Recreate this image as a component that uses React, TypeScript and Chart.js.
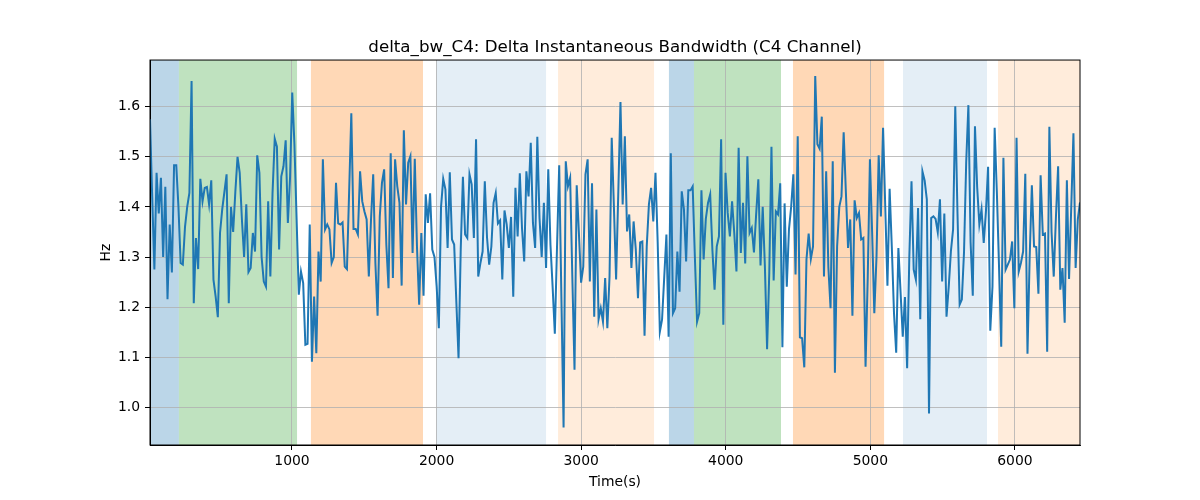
import { useEffect, useRef } from 'react';
import { Chart, registerables } from 'chart.js';

Chart.register(...registerables);

const seg1 = [1.575, 1.42, 1.275, 1.468, 1.387, 1.458, 1.30, 1.44, 1.216, 1.365, 1.269, 1.483, 1.483, 1.40, 1.288, 1.285, 1.36, 1.40, 1.428, 1.651, 1.208, 1.338, 1.276, 1.456, 1.411, 1.438, 1.44, 1.405, 1.453, 1.255, 1.221, 1.18, 1.348, 1.395, 1.43, 1.465, 1.208, 1.40];
const seg2 = [1.35, 1.43, 1.50, 1.468, 1.375, 1.30, 1.405, 1.27, 1.278, 1.348, 1.311, 1.503, 1.468, 1.30, 1.251, 1.241, 1.411, 1.261, 1.428, 1.536, 1.52, 1.315, 1.461, 1.481, 1.533, 1.368, 1.458, 1.628, 1.525, 1.375, 1.225, 1.271, 1.248, 1.125, 1.127, 1.365, 1.091, 1.221];
const seg3 = [1.108, 1.311, 1.251, 1.495, 1.355, 1.365, 1.355, 1.288, 1.30, 1.448, 1.367, 1.365, 1.369, 1.281, 1.276, 1.43, 1.587, 1.356, 1.356, 1.345, 1.471, 1.411, 1.391, 1.375, 1.261, 1.375, 1.465, 1.288, 1.183, 1.381, 1.448, 1.475, 1.325, 1.238, 1.507, 1.258, 1.495, 1.441, 1.408];
const seg4 = [1.243, 1.553, 1.405, 1.488, 1.501, 1.308, 1.496, 1.321, 1.205, 1.348, 1.223, 1.425, 1.368, 1.427, 1.315, 1.30, 1.241, 1.158, 1.40, 1.456, 1.435, 1.318, 1.469, 1.335, 1.325, 1.21, 1.098, 1.315, 1.46, 1.345, 1.338, 1.465, 1.445, 1.338, 1.535, 1.261, 1.288, 1.311, 1.451];
const seg5 = [1.34, 1.285, 1.321, 1.408, 1.428, 1.367, 1.373, 1.255, 1.393, 1.365, 1.318, 1.38, 1.221, 1.438, 1.341, 1.467, 1.358, 1.291, 1.471, 1.421, 1.528, 1.368, 1.318, 1.54, 1.378, 1.30, 1.408, 1.278, 1.475, 1.325, 1.24, 1.147, 1.32, 1.483, 1.22, 0.96, 1.491, 1.441, 1.458];
const seg6 = [1.26, 1.075, 1.443, 1.348, 1.249, 1.281, 1.465, 1.495, 1.251, 1.447, 1.181, 1.395, 1.176, 1.198, 1.171, 1.258, 1.158, 1.261, 1.538, 1.40, 1.255, 1.428, 1.609, 1.405, 1.541, 1.351, 1.385, 1.278, 1.371, 1.315, 1.218, 1.329, 1.331, 1.143, 1.321, 1.405, 1.438, 1.371, 1.468];
const seg7 = [1.33, 1.151, 1.175, 1.26, 1.345, 1.141, 1.507, 1.188, 1.198, 1.311, 1.231, 1.431, 1.395, 1.291, 1.433, 1.433, 1.441, 1.30, 1.171, 1.188, 1.433, 1.295, 1.376, 1.408, 1.425, 1.315, 1.235, 1.321, 1.341, 1.535, 1.165, 1.468, 1.388, 1.341, 1.411, 1.348, 1.271, 1.518, 1.308];
const seg8 = [1.408, 1.287, 1.501, 1.348, 1.358, 1.309, 1.385, 1.455, 1.283, 1.40, 1.281, 1.116, 1.268, 1.52, 1.253, 1.391, 1.385, 1.447, 1.12, 1.407, 1.241, 1.355, 1.40, 1.465, 1.265, 1.541, 1.14, 1.138, 1.08, 1.295, 1.347, 1.296, 1.321, 1.661, 1.525, 1.516, 1.58, 1.261, 1.471];
const seg9 = [1.28, 1.198, 1.491, 1.069, 1.321, 1.40, 1.421, 1.549, 1.43, 1.318, 1.375, 1.183, 1.413, 1.378, 1.388, 1.335, 1.338, 1.081, 1.26, 1.495, 1.35, 1.188, 1.30, 1.503, 1.381, 1.558, 1.40, 1.243, 1.436, 1.32, 1.188, 1.109, 1.318, 1.23, 1.141, 1.22, 1.078, 1.30, 1.451];
const seg10 = [1.275, 1.255, 1.398, 1.176, 1.471, 1.453, 1.415, 0.988, 1.378, 1.381, 1.376, 1.349, 1.415, 1.251, 1.387, 1.181, 1.24, 1.311, 1.355, 1.601, 1.39, 1.205, 1.215, 1.31, 1.49, 1.603, 1.33, 1.223, 1.561, 1.44, 1.365, 1.395, 1.328, 1.39, 1.48, 1.153, 1.241, 1.558, 1.43];
const seg11 = [1.28, 1.121, 1.498, 1.275, 1.285, 1.295, 1.331, 1.198, 1.538, 1.271, 1.288, 1.311, 1.466, 1.107, 1.30, 1.443, 1.321, 1.32, 1.227, 1.463, 1.345, 1.347, 1.111, 1.56, 1.35, 1.261, 1.38, 1.481, 1.235, 1.278, 1.169, 1.453, 1.256, 1.40, 1.547, 1.278, 1.375, 1.409];

const deltaBw = [...seg1, ...seg2, ...seg3, ...seg4, ...seg5, ...seg6, ...seg7, ...seg8, ...seg9, ...seg10, ...seg11];
const firstTime = 18;
const lastTime = 6450;

// shaded segments (start, end, colour)
const bandStarts = [18, 218, 1131, 1996, 2840, 3607, 3780, 4465, 5226, 5883];
const bandEnds = [218, 1035, 1906, 2757, 3504, 3780, 4382, 5095, 5807, 6450];
const bandColors = [
  'rgba(31,119,180,0.3)',
  'rgba(44,160,44,0.3)',
  'rgba(255,127,14,0.3)',
  'rgba(31,119,180,0.12)',
  'rgba(255,127,14,0.15)',
  'rgba(31,119,180,0.3)',
  'rgba(44,160,44,0.3)',
  'rgba(255,127,14,0.3)',
  'rgba(31,119,180,0.12)',
  'rgba(255,127,14,0.15)',
];

const xTicks = [1000, 2000, 3000, 4000, 5000, 6000];
const yTicks = [1.0, 1.1, 1.2, 1.3, 1.4, 1.5, 1.6];

const bandsPlugin = {
  id: 'bands',
  beforeDraw(chart: any) {
    const { ctx, chartArea, scales } = chart;
    ctx.save();
    bandStarts.forEach((s, i) => {
      const x0 = scales.x.getPixelForValue(s);
      const x1 = scales.x.getPixelForValue(bandEnds[i]);
      ctx.fillStyle = bandColors[i];
      ctx.fillRect(x0, chartArea.top, x1 - x0, chartArea.bottom - chartArea.top);
    });
    ctx.restore();
  },
  afterDatasetsDraw(chart: any) {
    const { ctx, chartArea } = chart;
    ctx.save();
    ctx.strokeStyle = '#000';
    ctx.lineWidth = 1;
    ctx.strokeRect(chartArea.left, chartArea.top, chartArea.right - chartArea.left, chartArea.bottom - chartArea.top);
    ctx.restore();
  },
};

export default function App() {
  const chartRef = useRef<HTMLCanvasElement | null>(null);
  const chartInstance = useRef<Chart | null>(null);

  useEffect(() => {
    if (!chartRef.current) return;
    if (chartInstance.current) chartInstance.current.destroy();
    const ctx = chartRef.current.getContext('2d');
    if (!ctx) return;

    Chart.defaults.font.family = "'DejaVu Sans', sans-serif";
    Chart.defaults.color = '#000';

    const step = (lastTime - firstTime) / (deltaBw.length - 1);
    const points = deltaBw.map((v, i) => ({ x: firstTime + i * step, y: v }));

    chartInstance.current = new Chart(ctx, {
      type: 'line',
      data: {
        datasets: [
          {
            label: 'delta_bw_C4',
            data: points,
            borderColor: '#1f77b4',
            borderWidth: 2,
            pointRadius: 0,
            tension: 0,
            fill: false,
          },
        ],
      },
      options: {
        responsive: true,
        maintainAspectRatio: false,
        animation: false,
        layout: { padding: { left: 98, right: 120, top: 0, bottom: 9 } },
        plugins: {
          legend: { display: false },
          tooltip: { enabled: false },
          title: {
            display: true,
            text: 'delta_bw_C4: Delta Instantaneous Bandwidth (C4 Channel)',
            color: '#000',
            font: { size: 16.7, weight: 'normal', lineHeight: 1.2 },
            padding: { top: 38, bottom: 2 },
            fullSize: false,
          },
        },
        scales: {
          x: {
            type: 'linear',
            min: firstTime,
            max: lastTime,
            afterBuildTicks: (scale: any) => {
              scale.ticks = xTicks.map((v) => ({ value: v }));
            },
            afterFit: (scale: any) => {
              scale.height = 46;
            },
            ticks: {
              font: { size: 13.9 },
              color: '#000',
              padding: 3,
              maxRotation: 0,
              callback: (v: any) => String(v),
            },
            grid: {
              color: '#b0b0b0',
              lineWidth: 0.8,
              drawTicks: true,
              tickLength: 5,
              tickColor: '#000',
              tickWidth: 1,
            },
            border: { display: true, color: '#000', width: 1 },
            title: {
              display: true,
              text: 'Time(s)',
              color: '#000',
              font: { size: 13.9, lineHeight: 1.2 },
              padding: 0,
            },
          },
          y: {
            type: 'linear',
            min: 0.925,
            max: 1.693,
            afterBuildTicks: (scale: any) => {
              scale.ticks = yTicks.map((v) => ({ value: v }));
            },
            afterFit: (scale: any) => {
              scale.width = 52;
            },
            ticks: {
              font: { size: 13.9 },
              color: '#000',
              padding: 5,
              callback: (v: any) => Number(v).toFixed(1),
            },
            grid: {
              color: '#b0b0b0',
              lineWidth: 0.8,
              drawTicks: true,
              tickLength: 5,
              tickColor: '#000',
              tickWidth: 1,
            },
            border: { display: true, color: '#000', width: 1 },
            title: {
              display: true,
              text: 'Hz',
              color: '#000',
              font: { size: 13.9, lineHeight: 1.2 },
              padding: 0,
            },
          },
        },
      },
      plugins: [bandsPlugin],
    });

    return () => {
      if (chartInstance.current) {
        chartInstance.current.destroy();
        chartInstance.current = null;
      }
    };
  }, []);

  return (
    <div style={{ position: 'absolute', left: 0, top: 0, width: 1200, height: 500, background: '#fff' }}>
      <canvas ref={chartRef}></canvas>
    </div>
  );
}
